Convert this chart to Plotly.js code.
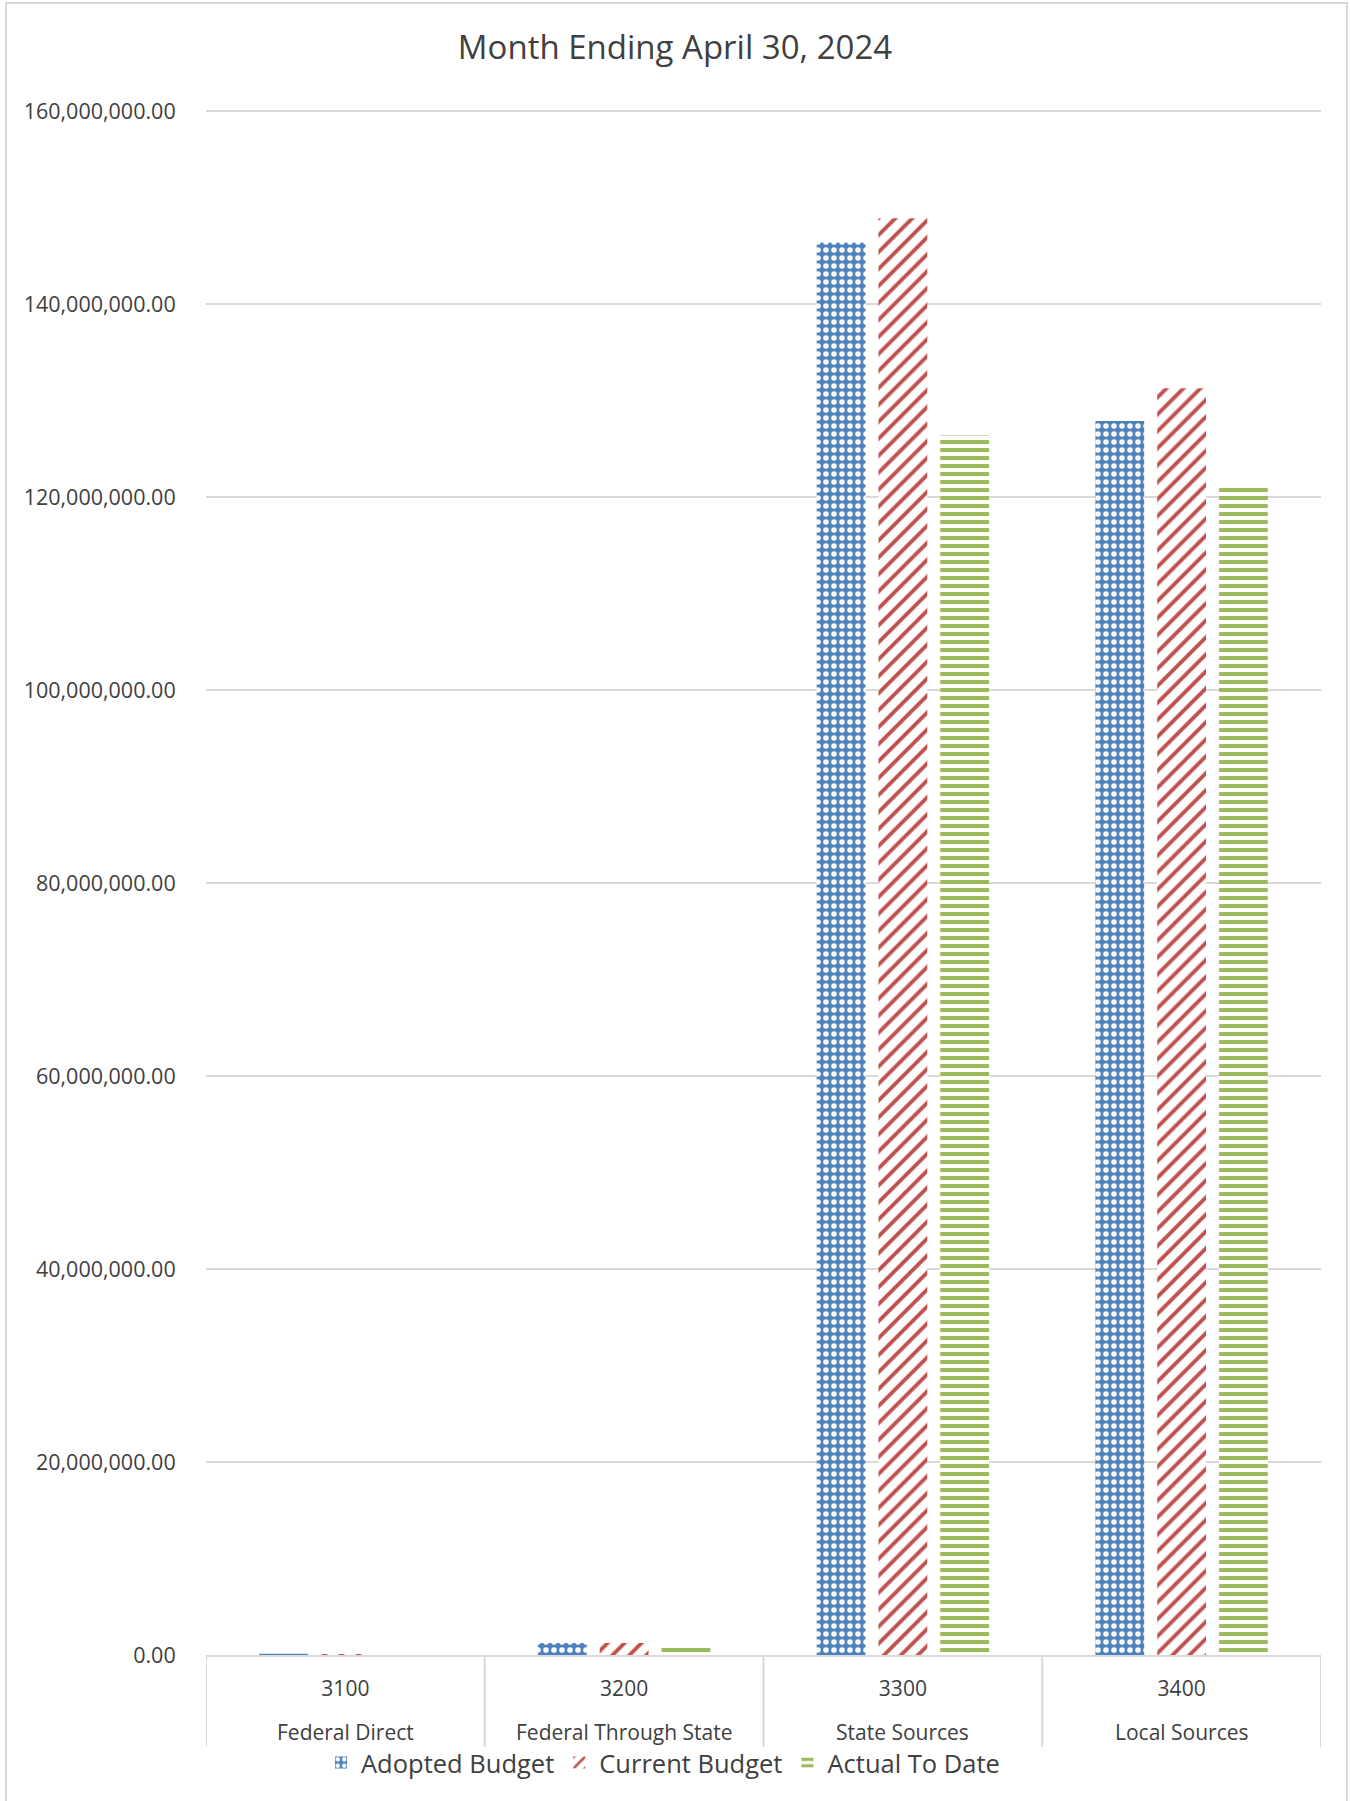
<!DOCTYPE html>
<html>
<head>
<meta charset="utf-8">
<script src="https://cdn.plot.ly/plotly-3.0.1.min.js"></script>
<style>
  html, body { margin: 0; padding: 0; background: #ffffff; }
  #chart { width: 1350px; height: 1801px; }
</style>
</head>
<body>
<div id="chart"></div>
<script>
// ---- Data ----
const categories = ['3100', '3200', '3300', '3400'];
const categoryNames = ['Federal Direct', 'Federal Through State', 'State Sources', 'Local Sources'];
const adoptedBudget = [120000, 1250000, 146400000, 127900000];
const currentBudget = [100000, 1250000, 148900000, 131300000];
const actualToDate  = [30000, 900000, 126400000, 121000000];
const seriesNames = ['Adopted Budget', 'Current Budget', 'Actual To Date'];
const yTickValues = [0, 20000000, 40000000, 60000000, 80000000, 100000000, 120000000, 140000000, 160000000];
const chartTitle = 'Month Ending April 30, 2024';

// ---- Styles ----
const FONT = '"Open Sans", "Noto Sans", sans-serif';
const TEXT = '#404040';
const GRID = '#d9d9d9';
const BLUE = '#4F81BD', RED = '#C0504D', GREEN = '#9BBB59';

const traces = [
  {
    type: 'bar', name: seriesNames[0], x: categories, y: adoptedBudget,
    marker: { color: BLUE, line: { width: 0 },
      pattern: { shape: '.', fgcolor: '#ffffff', bgcolor: BLUE, size: 8, solidity: 0.38, fillmode: 'replace' } }
  },
  {
    type: 'bar', name: seriesNames[1], x: categories, y: currentBudget,
    marker: { color: RED, line: { width: 0 },
      pattern: { shape: '/', fgcolor: RED, bgcolor: '#ffffff', size: 12, solidity: 0.32, fillmode: 'replace' } }
  },
  {
    type: 'bar', name: seriesNames[2], x: categories, y: actualToDate,
    marker: { color: GREEN, line: { width: 0 },
      pattern: { shape: '-', fgcolor: GREEN, bgcolor: '#ffffff', size: 8, solidity: 0.5, fillmode: 'replace' } }
  }
];

// plot area geometry (px) used to place decorations in paper coords
const W = 1350, H = 1801;
const mL = 206, mR = 29, mT = 110, mB = 146;
const plotW = W - mL - mR, plotH = H - mT - mB;
const px2py = (py) => ((H - mB) - py) / plotH;  // page y -> paper y
const px2px = (px) => (px - mL) / plotW;        // page x -> paper x

const shapes = [];
for (let i = 0; i <= categories.length; i++) {
  shapes.push({
    type: 'line', xref: 'x', yref: 'paper',
    x0: i - 0.5, x1: i - 0.5, y0: 0, y1: px2py(1747),
    line: { color: GRID, width: 2 }
  });
}
// outer chart border
shapes.push({
  type: 'rect', xref: 'paper', yref: 'paper',
  x0: px2px(6), x1: px2px(1347), y0: px2py(1806), y1: px2py(3),
  line: { color: GRID, width: 2 }, fillcolor: 'rgba(0,0,0,0)'
});

const annotations = categoryNames.map((name, i) => ({
  x: i, xref: 'x', y: px2py(1732), yref: 'paper',
  text: name, showarrow: false, yanchor: 'middle', xanchor: 'center',
  font: { family: FONT, size: 21, color: TEXT }
}));

const yMax = yTickValues[yTickValues.length - 1];

const layout = {
  width: W, height: H,
  margin: { l: mL, r: mR, t: mT, b: mB, pad: 0 },
  paper_bgcolor: '#ffffff', plot_bgcolor: '#ffffff',
  font: { family: FONT, color: TEXT },
  title: {
    text: chartTitle, x: 0.5, xanchor: 'center', xref: 'container',
    y: 1 - 47 / H, yanchor: 'middle', yref: 'container',
    font: { family: FONT, size: 33, color: TEXT }
  },
  barmode: 'group', bargap: 0.335, bargroupgap: 0.21,
  showlegend: true,
  legend: {
    orientation: 'h', x: px2px(663), xanchor: 'center', xref: 'paper',
    y: px2py(1763), yanchor: 'middle', yref: 'paper',
    font: { family: FONT, size: 25.5, color: TEXT },
    bgcolor: 'rgba(0,0,0,0)', traceorder: 'normal'
  },
  xaxis: {
    type: 'category', range: [-0.5, categories.length - 0.5],
    tickvals: categories, ticktext: categories,
    ticks: 'outside', ticklen: 14, tickcolor: 'rgba(0,0,0,0)',
    tickfont: { family: FONT, size: 21, color: TEXT },
    showline: true, linecolor: GRID, linewidth: 2,
    showgrid: false, zeroline: false, fixedrange: true
  },
  yaxis: {
    range: [0, yMax * 1.0008], tickvals: yTickValues, tickformat: ',.2f',
    ticks: 'outside', ticklen: 25, tickcolor: 'rgba(0,0,0,0)',
    tickfont: { family: FONT, size: 21.5, color: TEXT },
    showgrid: true, gridcolor: GRID, gridwidth: 2,
    zeroline: false, showline: false, fixedrange: true
  },
  shapes: shapes,
  annotations: annotations
};

Plotly.newPlot('chart', traces, layout, { displayModeBar: false, staticPlot: true });
</script>
</body>
</html>
